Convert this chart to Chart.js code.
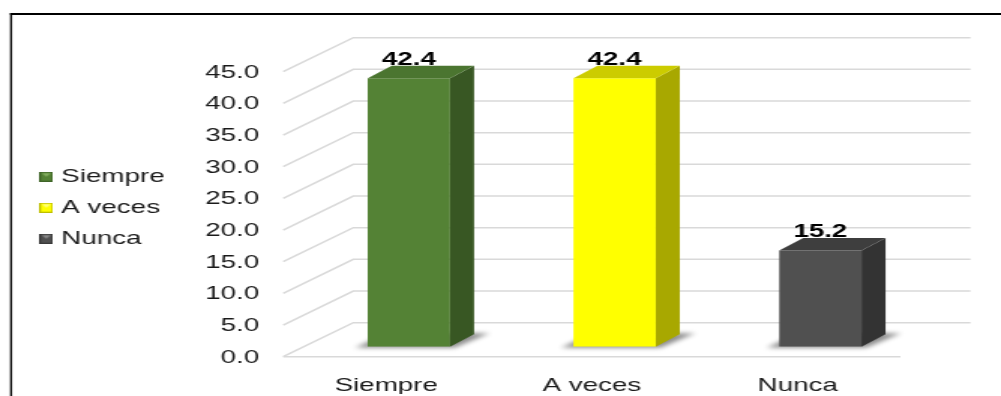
<!DOCTYPE html>
<html>
<head>
<meta charset="utf-8">
<script src="https://cdn.jsdelivr.net/npm/chart.js@4.4.1/dist/chart.umd.min.js"></script>
<style>
  html, body { margin: 0; padding: 0; background: #fff; overflow: hidden; }
  /* the chart is laid out narrow and widened horizontally */
  #wrap { position: absolute; left: 0; top: 0; width: 667px; height: 396px;
          transform: scaleX(1.5007); transform-origin: 0 0; }
</style>
</head>
<body>
<div id="wrap"><canvas id="c" width="667" height="396"></canvas></div>
<script>
// ---- data ----
const categories = ['Siempre', 'A veces', 'Nunca'];
const percentages = [42.4, 42.4, 15.2];
const tickValues = [0, 5, 10, 15, 20, 25, 30, 35, 40, 45];

// ---- colours ----
const frontColors = ['#548235', '#FFFF00', '#505050'];
const sideColors  = ['#385723', '#A8A800', '#333333'];
const topColors   = ['#4B7530', '#CCCC00', '#3E3E3E'];
const markerLight = ['#86B062', '#FFFF80', '#8C8C8C'];
const markerEdge  = ['#3F6428', '#BFBF00', '#3A3A3A'];

const FONT = '"Liberation Sans", Arial, Helvetica, sans-serif';
const TEXT = '#1A1A1A';
const FONT_SIZE = 18.5;

// 3D geometry, in canvas units, relative to the plane of the bar fronts
const FLOOR_DX = 15.2, FLOOR_DY = 10;   // front edge of the floor
const WALL_DX = 31.5, WALL_DY = 24;     // back wall
const BAR_DX = 16, BAR_DY = 12.5;       // depth of each bar
const PLOT_LEFT = 203.9;
const PAD_LEFT = 17.6;
const PLOT_BOTTOM = 346.7;
const PAD_BOTTOM = 2;

// small legend keys
const markerImages = frontColors.map((c, i) => {
  const m = document.createElement('canvas');
  m.width = 9; m.height = 10;
  const g = m.getContext('2d');
  g.fillStyle = markerEdge[i];
  g.fillRect(0, 0, 9, 10);
  g.fillStyle = c;
  g.fillRect(1, 1, 7, 8);
  g.fillStyle = markerLight[i];
  g.beginPath();
  g.moveTo(1.5, 1.5); g.lineTo(7.5, 1.5); g.lineTo(4.5, 5);
  g.closePath(); g.fill();
  return m;
});

function barGeom(el) {
  const p = el.getProps(['x', 'y', 'base', 'width'], true);
  return { L: p.x - p.width / 2, R: p.x + p.width / 2, T: p.y, B: p.base, X: p.x };
}

const box3d = {
  id: 'box3d',
  beforeDatasetsDraw(chart) {
    const { ctx, chartArea: a, scales: { y } } = chart;
    ctx.save();
    // walls: sloped side line + back wall line for each tick
    ctx.strokeStyle = '#D9D9D9';
    ctx.lineWidth = 1.5;
    tickValues.forEach(v => {
      const py = y.getPixelForValue(v);
      ctx.beginPath();
      ctx.moveTo(a.left - FLOOR_DX, py + FLOOR_DY);
      ctx.lineTo(a.left + WALL_DX, py - WALL_DY);
      ctx.lineTo(a.right + WALL_DX, py - WALL_DY);
      ctx.stroke();
    });
    // front edge of the floor
    const p0 = y.getPixelForValue(0);
    ctx.beginPath();
    ctx.moveTo(a.left - FLOOR_DX, p0 + FLOOR_DY);
    ctx.lineTo(a.right - FLOOR_DX, p0 + FLOOR_DY);
    ctx.stroke();

    const meta = chart.getDatasetMeta(0);
    // soft floor shadows
    ctx.save();
    ctx.filter = 'blur(2px)';
    ctx.fillStyle = 'rgba(0,0,0,0.45)';
    meta.data.forEach(el => {
      const g = barGeom(el);
      ctx.beginPath();
      ctx.moveTo(g.L - 8, g.B + 1);
      ctx.lineTo(g.R + 3, g.B + 1);
      ctx.lineTo(g.R + BAR_DX + 10, g.B - BAR_DY - 1);
      ctx.lineTo(g.L + BAR_DX - 4, g.B - BAR_DY - 1);
      ctx.closePath();
      ctx.fill();
    });
    ctx.restore();

    // value labels (the bar tops are painted over their lower edge)
    ctx.fillStyle = '#000';
    ctx.font = 'bold 18.5px ' + FONT;
    ctx.textAlign = 'center';
    ctx.textBaseline = 'middle';
    meta.data.forEach((el, i) => {
      const g = barGeom(el);
      ctx.fillText(percentages[i].toFixed(1), g.X, g.T - 18.3);
    });
    ctx.restore();
  },
  afterDatasetsDraw(chart) {
    const { ctx } = chart;
    const meta = chart.getDatasetMeta(0);
    ctx.save();
    meta.data.forEach((el, i) => {
      const g = barGeom(el);
      // right side
      ctx.fillStyle = sideColors[i];
      ctx.beginPath();
      ctx.moveTo(g.R, g.T);
      ctx.lineTo(g.R + BAR_DX, g.T - BAR_DY);
      ctx.lineTo(g.R + BAR_DX, g.B - BAR_DY);
      ctx.lineTo(g.R, g.B);
      ctx.closePath();
      ctx.fill();
      // top
      ctx.fillStyle = topColors[i];
      ctx.beginPath();
      ctx.moveTo(g.L, g.T);
      ctx.lineTo(g.L + BAR_DX, g.T - BAR_DY);
      ctx.lineTo(g.R + BAR_DX, g.T - BAR_DY);
      ctx.lineTo(g.R, g.T);
      ctx.closePath();
      ctx.fill();
    });
    ctx.restore();
  },
  afterDraw(chart) {
    const { ctx } = chart;
    ctx.save();
    ctx.fillStyle = '#000';
    ctx.fillRect(6.7, 13, 1.35, 400);
    ctx.fillRect(6.7, 13, 700, 2);
    ctx.restore();
  }
};

new Chart(document.getElementById('c'), {
  type: 'bar',
  data: {
    labels: categories,
    datasets: [{
      data: percentages,
      backgroundColor: frontColors,
      borderWidth: 0,
      categoryPercentage: 1,
      barPercentage: 0.4
    }]
  },
  options: {
    responsive: false,
    animation: false,
    devicePixelRatio: 1,
    layout: { padding: { left: PAD_LEFT, right: 51.8, top: 61.7, bottom: PAD_BOTTOM } },
    plugins: {
      tooltip: { enabled: false },
      legend: {
        position: 'left',
        align: 'center',
        fullSize: false,
        title: { display: true, text: '', padding: 0, font: { size: 5.8 } },
        labels: {
          usePointStyle: true,
          pointStyleWidth: 1.5,
          padding: 12.5,
          color: TEXT,
          font: { family: FONT, size: FONT_SIZE },
          generateLabels: () => categories.map((t, i) => ({
            text: t,
            pointStyle: markerImages[i],
            fillStyle: frontColors[i],
            strokeStyle: frontColors[i],
            fontColor: TEXT,
            lineWidth: 0,
            hidden: false,
            index: i,
            datasetIndex: 0
          }))
        }
      }
    },
    scales: {
      x: {
        grid: { display: false },
        border: { display: false },
        ticks: { color: TEXT, font: { family: FONT, size: FONT_SIZE }, padding: 20, labelOffset: -15.1, maxRotation: 0 },
        afterFit(s) { s.height = 396 - PAD_BOTTOM - PLOT_BOTTOM; }
      },
      y: {
        min: 0,
        max: 45,
        grid: { display: false, drawTicks: false },
        border: { display: false },
        afterBuildTicks(s) { s.ticks = tickValues.map(v => ({ value: v })); },
        ticks: {
          color: TEXT,
          font: { family: FONT, size: FONT_SIZE },
          padding: 31.2,
          labelOffset: 11,
          callback: v => Number(v).toFixed(1)
        },
        afterFit(s) { s.width = PLOT_LEFT - PAD_LEFT - s.chart.legend.width; }
      }
    }
  },
  plugins: [box3d]
});
</script>
</body>
</html>
